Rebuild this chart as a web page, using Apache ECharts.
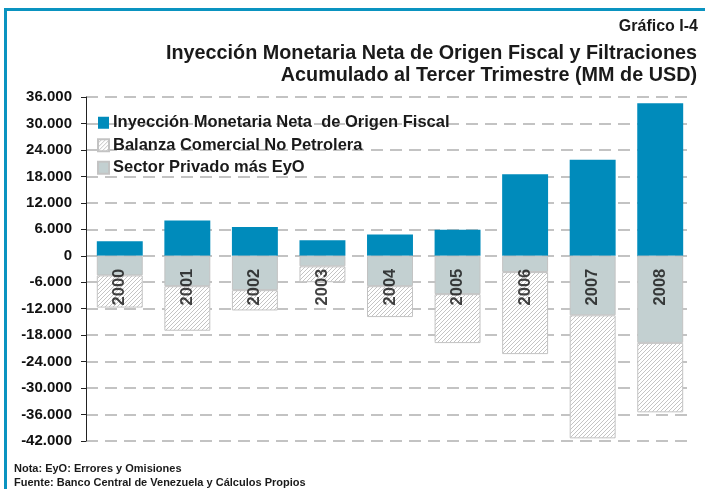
<!DOCTYPE html>
<html>
<head>
<meta charset="utf-8">
<script src="https://cdn.jsdelivr.net/npm/echarts@6/dist/echarts.min.js"></script>
<style>
html,body{margin:0;padding:0;background:#fff;}
#main{width:705px;height:489px;}
</style>
</head>
<body>
<div id="main"></div>
<script>
var years = ['2000','2001','2002','2003','2004','2005','2006','2007','2008'];
var inyeccion = [3300, 8000, 6500, 3500, 4800, 5900, 18500, 21800, 34600];
var sectorPrivado = [-4450, -6900, -7800, -2400, -6900, -8700, -3700, -13500, -19750];
var balanza = [-7300, -10100, -4600, -3600, -7000, -11100, -18600, -27900, -15750];
var yTicks = [-42000, -36000, -30000, -24000, -18000, -12000, -6000, 0, 6000, 12000, 18000, 24000, 30000, 36000];

// trama rayada para la balanza comercial
function hatch(){
    var c = document.createElement('canvas');
    c.width = 8; c.height = 8;
    var g = c.getContext('2d');
    g.fillStyle = '#ffffff';
    g.fillRect(0,0,8,8);
    g.strokeStyle = '#c4c4c4';
    g.lineWidth = 1;
    g.beginPath();
    for (var k = -8; k <= 8; k += 4){
        g.moveTo(k, 8); g.lineTo(k + 8, 0);
    }
    g.stroke();
    return c;
}

function fmt(v){
    var s = String(Math.abs(v));
    s = s.replace(/\B(?=(\d{3})+(?!\d))/g, '.');
    return (v < 0 ? '-' : '') + s;
}

var font = '"Liberation Sans", Arial, sans-serif';
var myChart = echarts.init(document.getElementById('main'));
var option = {
    animation: false,
    textStyle: {fontFamily: font},
    graphic: [
        {type:'rect', shape:{x:4, y:8, width:705, height:3}, style:{fill:'#0a93c0'}},
        {type:'rect', shape:{x:4, y:8, width:3, height:489}, style:{fill:'#0a93c0'}},
        {type:'text', right: 7, top: 19, style:{text:'Gráfico I-4', font:'bold 16px ' + font, fill:'#1a1a1a'}},
        {type:'text', right: 8, top: 44, style:{text:'Inyección Monetaria Neta de Origen Fiscal y Filtraciones', font:'bold 19.8px ' + font, fill:'#1a1a1a'}},
        {type:'text', right: 8, top: 66, style:{text:'Acumulado al Tercer Trimestre (MM de USD)', font:'bold 19.8px ' + font, fill:'#1a1a1a'}},
        {type:'text', left: 14, top: 463, style:{text:'Nota: EyO: Errores y Omisiones', font:'bold 11px ' + font, fill:'#1a1a1a'}},
        {type:'text', left: 14, top: 477, style:{text:'Fuente: Banco Central de Venezuela y Cálculos Propios', font:'bold 11px ' + font, fill:'#1a1a1a'}}
    ],
    legend: {
        data: ['Inyección Monetaria Neta  de Origen Fiscal', 'Balanza Comercial No Petrolera', 'Sector Privado más EyO'],
        orient: 'vertical',
        left: 97,
        top: 114,
        padding: 0,
        icon: 'rect',
        itemWidth: 11,
        itemHeight: 12,
        itemGap: 5,
        textStyle: {fontSize: 16.5, lineHeight: 17.5, fontWeight: 'bold', color: '#1a1a1a', padding: [0,0,0,-1]}
    },
    grid: {left: 86, right: 11, top: 97, bottom: 48},
    xAxis: {
        type: 'category',
        data: years,
        axisLine: {show: false},
        axisTick: {show: false},
        axisLabel: {show: false}
    },
    yAxis: {
        type: 'value',
        min: yTicks[0],
        max: yTicks[yTicks.length - 1],
        interval: 6000,
        axisLine: {show: true, lineStyle: {color: '#222', width: 1}},
        axisTick: {show: true, length: 5, lineStyle: {color: '#222'}},
        axisLabel: {fontSize: 15, fontWeight: 'bold', color: '#111', margin: 14, formatter: fmt},
        splitLine: {show: true, lineStyle: {color: '#b0b0b0', type: [12, 7], width: 1.5}}
    },
    series: [
        {
            name: 'Inyección Monetaria Neta  de Origen Fiscal',
            type: 'bar',
            stack: 'total',
            barCategoryGap: '32%',
            data: inyeccion,
            itemStyle: {color: '#008bbb'}
        },
        {
            name: 'Sector Privado más EyO',
            type: 'bar',
            stack: 'total',
            data: sectorPrivado,
            itemStyle: {color: '#c3d0d1', borderColor: '#c3c3c3', borderWidth: 1}
        },
        {
            name: 'Balanza Comercial No Petrolera',
            type: 'bar',
            stack: 'total',
            data: balanza,
            itemStyle: {color: {image: hatch(), repeat: 'repeat'}, borderColor: '#c3c3c3', borderWidth: 1}
        },
        {
            // etiquetas de año colocadas en la línea de cero
            name: 'años',
            type: 'scatter',
            symbolSize: 0,
            z: 10,
            silent: true,
            data: years.map(function(y){ return [y, 0]; }),
            label: {
                show: true,
                position: 'bottom',
                distance: 13,
                rotate: 90,
                align: 'right',
                verticalAlign: 'middle',
                formatter: function(p){ return p.value[0]; },
                fontSize: 16.5,
                fontWeight: 'bold',
                color: '#111'
            }
        }
    ]
};
myChart.setOption(option);
</script>
</body>
</html>
